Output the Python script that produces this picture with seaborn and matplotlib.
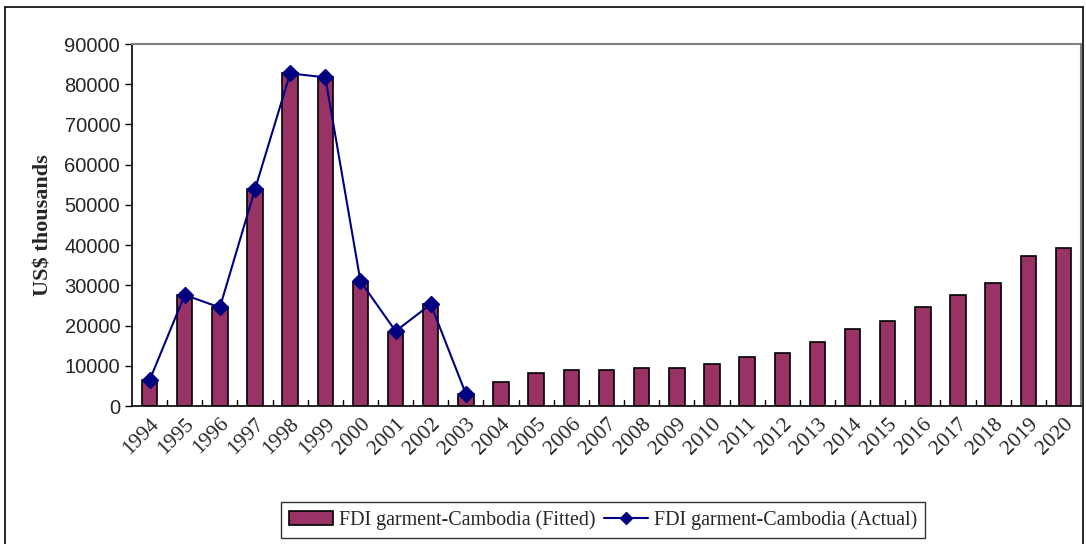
import numpy as np
import pandas as pd
import matplotlib
matplotlib.use("Agg")
import matplotlib.pyplot as plt
import matplotlib.transforms as mtransforms
import seaborn as sns
from matplotlib.patches import Rectangle
from matplotlib.lines import Line2D

years = list(range(1994, 2021))
fitted = [6500, 27600, 24700, 53900, 82900, 81900, 30900, 18500, 25400, 3000,
          6000, 8200, 9000, 9000, 9500, 9500, 10400, 12100, 13300, 16000,
          19100, 21100, 24500, 27600, 30700, 37200, 39200]
actual_years = list(range(1994, 2004))
actual = [6400, 27600, 24500, 53900, 82700, 81700, 31000, 18600, 25300, 3000]

df = pd.DataFrame({"year": [str(y) for y in years], "fitted": fitted})

sns.set_style("white")
serif = ["Liberation Serif", "DejaVu Serif"]
sans = ["Liberation Sans", "DejaVu Sans"]

fig = plt.figure(figsize=(10.86, 5.44), dpi=100)
ax = fig.add_axes([132 / 1086, 1 - 406 / 544, (1081 - 132) / 1086, (406 - 44) / 544])

sns.barplot(data=df, x="year", y="fitted", color="#993366", saturation=1,
            width=0.44, edgecolor="black", linewidth=1.2, ax=ax)
pos = [years.index(y) for y in actual_years]
ax.plot(pos, actual, color="#000080", lw=1.5, marker="D", markersize=8,
        markerfacecolor="#000080", markeredgecolor="#000080")

ax.set_xlim(-0.5, len(years) - 0.5)
ax.set_ylim(0, 90000)
ax.set_yticks(np.arange(0, 90001, 10000))
ax.set_yticklabels([str(v) for v in range(0, 90001, 10000)], family=sans, fontsize=14.5)
ax.set_xticks(range(len(years)))
ax.set_xticklabels([str(y) for y in years], rotation=45, ha="right",
                   rotation_mode="anchor", family=serif, fontsize=15.5)
shift = mtransforms.ScaledTranslation(-8 / 100, 0, fig.dpi_scale_trans)
for lab in ax.get_xticklabels():
    lab.set_transform(lab.get_transform() + shift)
ax.tick_params(axis="x", length=0, pad=6)
ax.tick_params(axis="y", direction="out", length=5, width=1, color="black", left=True)
# inward ticks between categories
for i in range(1, len(years)):
    ax.plot([i - 0.5, i - 0.5], [0, 1600], color="black", lw=1)

ax.set_xlabel("")
ax.set_ylabel("US$ thousands", family=serif, fontsize=16, fontweight="bold", labelpad=8)

for s in ["left", "bottom"]:
    ax.spines[s].set_color("black")
    ax.spines[s].set_linewidth(1.2)
for s in ["top", "right"]:
    ax.spines[s].set_color("#808080")
    ax.spines[s].set_linewidth(1.5)

handles = [Rectangle((0, 0), 1, 1, facecolor="#993366", edgecolor="black", lw=1.2),
           Line2D([], [], color="#000080", lw=1.5, marker="D", markersize=6)]
leg = fig.legend(handles, ["FDI garment-Cambodia (Fitted)", "FDI garment-Cambodia (Actual)"],
                 loc="center", bbox_to_anchor=(603 / 1086, 1 - 520 / 544), ncol=2,
                 prop={"family": serif, "size": 14.4}, frameon=True, fancybox=False,
                 edgecolor="black", handlelength=2.2, columnspacing=0.4,
                 handletextpad=0.3, borderpad=0.4)
leg.get_frame().set_linewidth(1)

fig.patches.append(Rectangle((5 / 1086, -0.01), (1083 - 5) / 1086, 1 - 7 / 544 + 0.01,
                             transform=fig.transFigure, fill=False,
                             edgecolor="black", lw=1.2))

fig.savefig("out.png", dpi=100)
